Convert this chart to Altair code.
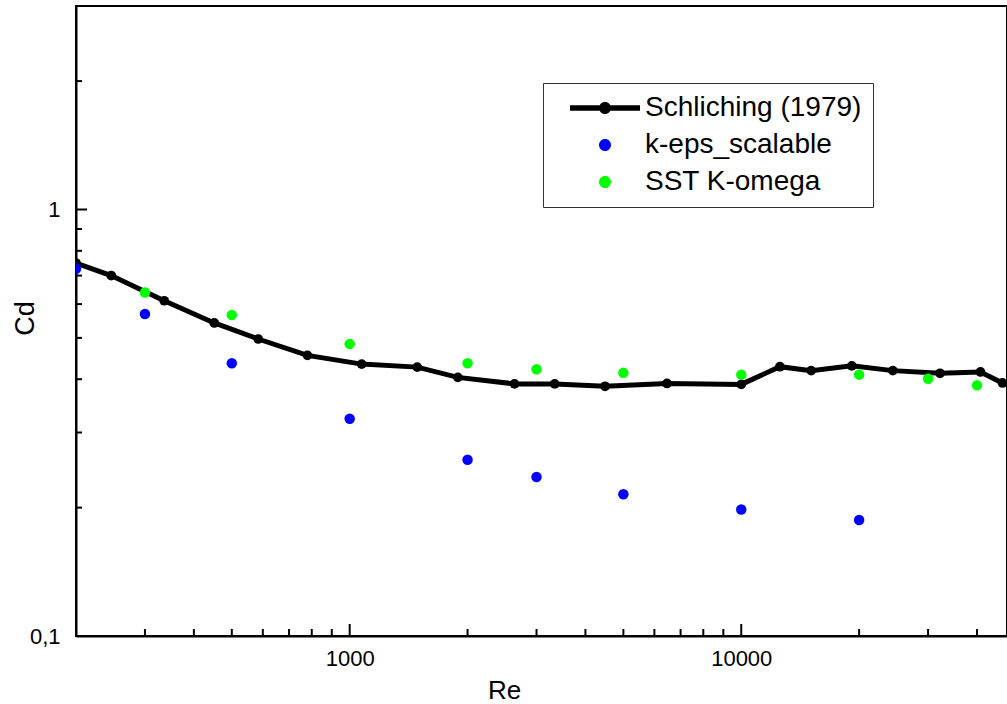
import altair as alt
import pandas as pd

# ---- data ----
schliching_re = [200, 246, 336, 451, 584, 780, 1073, 1488, 1889, 2636, 3339, 4490,
                 6463, 10000, 12550, 15090, 19160, 24380, 32190, 40830, 46470]
schliching_cd = [0.749, 0.700, 0.611, 0.542, 0.497, 0.455, 0.434, 0.427, 0.404, 0.390,
                 0.390, 0.385, 0.391, 0.389, 0.428, 0.419, 0.430, 0.419, 0.413, 0.416, 0.392]

keps_re = [200, 300, 500, 1000, 2000, 3000, 5000, 10000, 20000]
keps_cd = [0.726, 0.569, 0.436, 0.323, 0.259, 0.236, 0.215, 0.198, 0.187]

sst_re = [300, 500, 1000, 2000, 3000, 5000, 10000, 20000, 30000, 40000]
sst_cd = [0.639, 0.566, 0.484, 0.436, 0.422, 0.414, 0.410, 0.410, 0.401, 0.387]

series_names = ["Schliching (1979)", "k-eps_scalable", "SST K-omega"]
series_colors = ["#000000", "#0000ff", "#00ff00"]

x_major_ticks = [1000, 10000]
x_minor_ticks = [300, 400, 500, 600, 700, 800, 900,
                 2000, 3000, 4000, 5000, 6000, 7000, 8000, 9000,
                 20000, 30000, 40000]
y_major_ticks = [1]
y_minor_ticks = [0.2, 0.3, 0.4, 0.5, 0.6, 0.7, 0.8, 0.9, 2]
x_label_values = [1000, 10000]
y_label_values = [0.1, 1]

# ---- chart ----
W, H = 931, 630
FONT = "Liberation Sans"

xscale = alt.Scale(type="log", domain=[200, 47720], nice=False)
yscale = alt.Scale(type="log", domain=[0.1, 3.0], nice=False)

xaxis = alt.Axis(values=x_label_values, format="d", ticks=False, tickSize=0, grid=False,
                 labelPadding=12, labelFontSize=22, labelColor="black",
                 domainColor="black", domainWidth=2,
                 title="Re", titleFontSize=26, titleFontWeight="normal", titleColor="black",
                 titleX=428, titleY=62, titleBaseline="alphabetic", titleAlign="center")
yaxis = alt.Axis(values=y_label_values, labelExpr="replace(toString(datum.value), '.', ',')",
                 ticks=False, tickSize=0, grid=False,
                 labelPadding=16, labelFontSize=22, labelColor="black",
                 domainColor="black", domainWidth=2,
                 title="Cd", titleFontSize=27, titleFontWeight="normal", titleColor="black",
                 titleX=-43, titleY=312, titleBaseline="alphabetic", titleAlign="center")

xenc = alt.X("Re:Q", scale=xscale, axis=xaxis)
yenc = alt.Y("Cd:Q", scale=yscale, axis=yaxis)

df_s = pd.DataFrame({"Re": schliching_re, "Cd": schliching_cd})
df_k = pd.DataFrame({"Re": keps_re, "Cd": keps_cd})
df_g = pd.DataFrame({"Re": sst_re, "Cd": sst_cd})

line = alt.Chart(df_s).mark_line(color="black", strokeWidth=5, clip=True).encode(x=xenc, y=yenc)
line_pts = alt.Chart(df_s).mark_circle(color="black", size=95, opacity=1, clip=True).encode(x=xenc, y=yenc)
keps_pts = alt.Chart(df_k).mark_circle(color="#0000ff", size=110, opacity=1, clip=True).encode(x=xenc, y=yenc)
sst_pts = alt.Chart(df_g).mark_circle(color="#00ff00", size=110, opacity=1, clip=True).encode(x=xenc, y=yenc)

# inward ticks drawn through the scales
xt_major = alt.Chart(pd.DataFrame({"Re": x_major_ticks})).mark_rule(color="black", strokeWidth=2).encode(
    x=xenc, y=alt.value(H), y2=alt.value(H - 12))
xt_minor = alt.Chart(pd.DataFrame({"Re": x_minor_ticks})).mark_rule(color="black", strokeWidth=2).encode(
    x=xenc, y=alt.value(H), y2=alt.value(H - 7))
yt_major = alt.Chart(pd.DataFrame({"Cd": y_major_ticks})).mark_rule(color="black", strokeWidth=2).encode(
    y=yenc, x=alt.value(0), x2=alt.value(11))
yt_minor = alt.Chart(pd.DataFrame({"Cd": y_minor_ticks})).mark_rule(color="black", strokeWidth=2).encode(
    y=yenc, x=alt.value(0), x2=alt.value(6))

# legend carrier (no visible marks)
line_symbol = ("M-7,-0.55 L7,-0.55 L7,0.55 L-7,0.55 Z "
               "M1.2,0 A1.2,1.2 0 1,1 -1.2,0 A1.2,1.2 0 1,1 1.2,0 Z")
dot_symbol = "M1.2,0 A1.2,1.2 0 1,1 -1.2,0 A1.2,1.2 0 1,1 1.2,0 Z"
legend = alt.Legend(orient="none", legendX=467, legendY=77, title=None, padding=11,
                    symbolOffset=37, labelOffset=26, rowPadding=9, labelFontSize=28,
                    labelLimit=500, labelColor="black", symbolSize=100, symbolStrokeWidth=0,
                    strokeColor="#333333", fillColor="white")
legend_layer = alt.Chart(pd.DataFrame({"series": series_names})).mark_point(
    filled=True, size=100, opacity=1).encode(
    color=alt.Color("series:N", scale=alt.Scale(domain=series_names, range=series_colors),
                    legend=legend),
    shape=alt.Shape("series:N", scale=alt.Scale(domain=series_names,
                                                range=[line_symbol, dot_symbol, dot_symbol]),
                    legend=legend),
).transform_filter("false")

chart = alt.layer(
    line, line_pts, keps_pts, sst_pts, xt_major, xt_minor, yt_major, yt_minor, legend_layer
).properties(
    width=W, height=H,
    autosize=alt.AutoSizeParams(type="none"),
    padding={"left": 76, "top": 6, "right": 0, "bottom": 68},
    background="white",
).configure(font=FONT).configure_view(stroke="black", strokeWidth=2)

chart.save("out.html", embed_options={"renderer": "svg", "actions": False})
